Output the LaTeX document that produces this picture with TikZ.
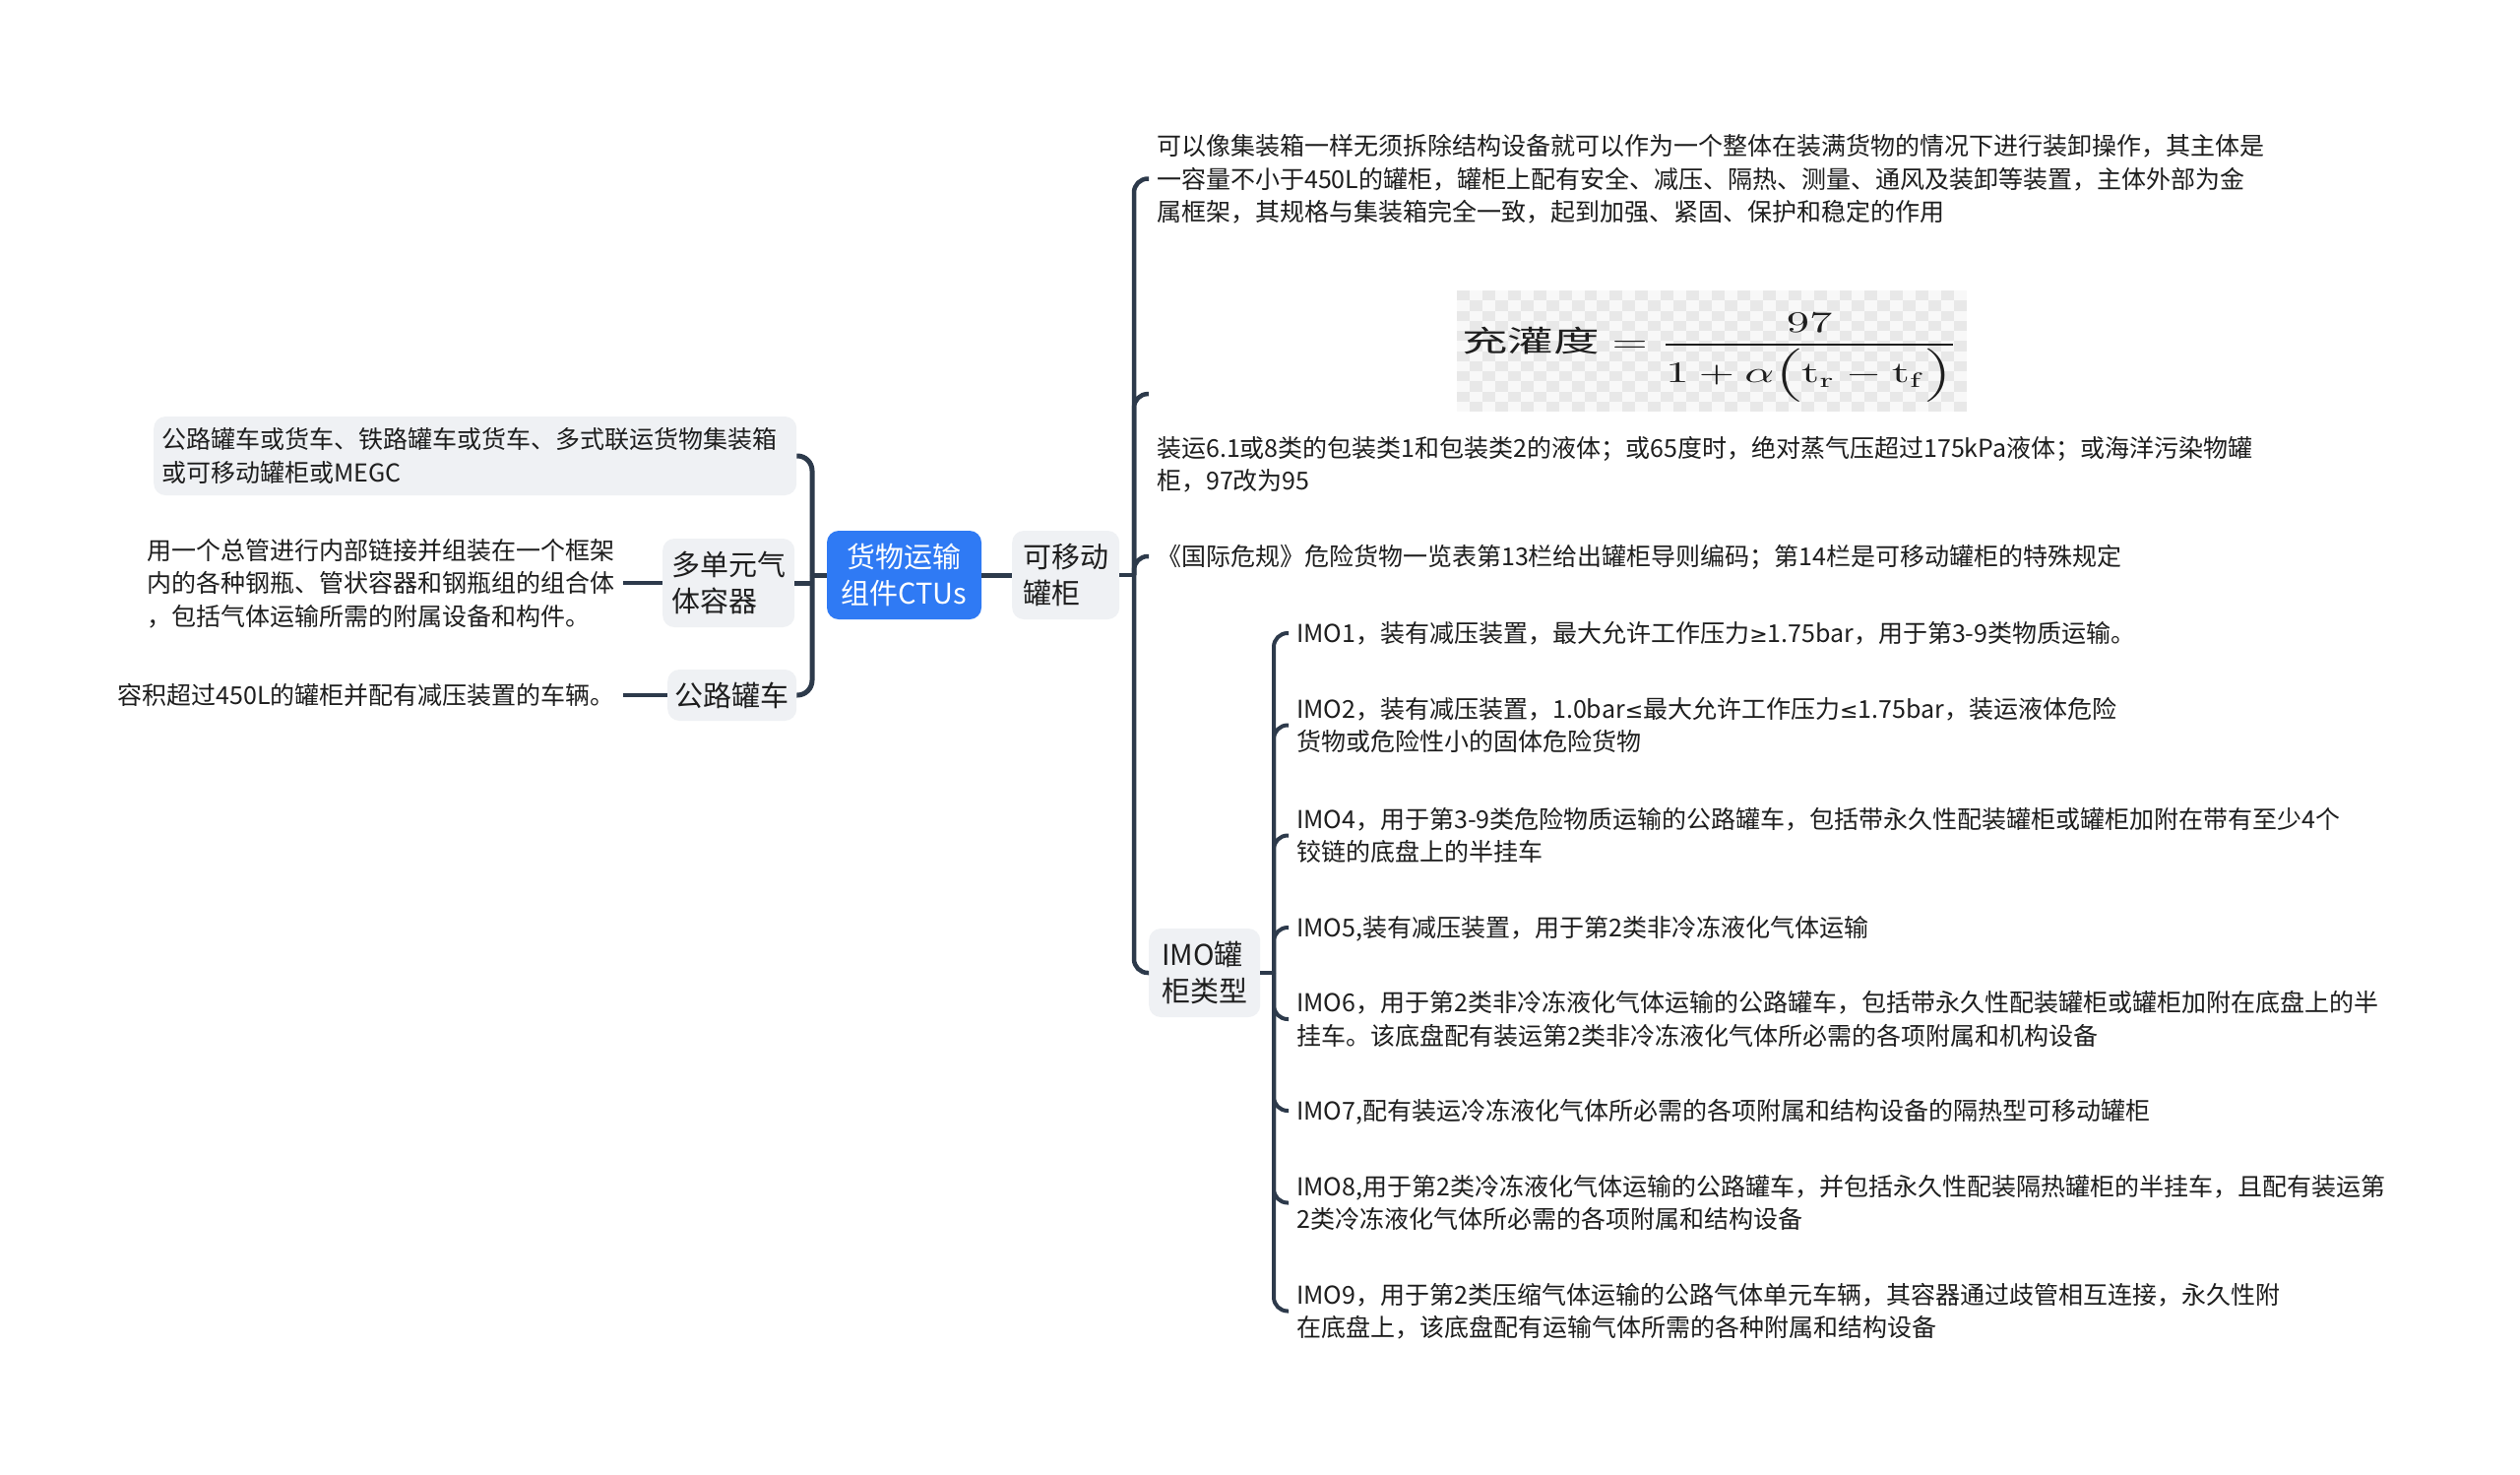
\documentclass[tikz,border=0pt]{standalone}
\usepackage[no-math]{fontspec}
\setmainfont{Noto Sans CJK SC}
\newfontfamily\symfont{DejaVu Sans}
\usepackage{amsmath}
\usepackage{graphicx}
\usetikzlibrary{fit}
\definecolor{lc}{HTML}{2D3A4B}
\definecolor{gfill}{HTML}{EFF1F4}
\definecolor{rootblue}{HTML}{2F7AF4}
\definecolor{ink}{HTML}{1E1E1E}
\definecolor{chkg}{HTML}{E8E8E8}
\definecolor{chkw}{HTML}{F8F8F8}
\newcommand\strA{\rule[-7.25pt]{0pt}{33.5pt}}
\newcommand\strB{\rule[-7.5pt]{0pt}{37pt}}
\newcommand\myge{{\symfont\fontsize{22}{33.5}\selectfont ≥}}
\newcommand\myle{{\symfont\fontsize{22}{33.5}\selectfont ≤}}
\tikzset{
  txt/.style={font=\fontsize{25}{33.5}\selectfont, text=ink, inner xsep=8pt, inner ysep=0pt, align=left},
  bigfont/.style={font=\fontsize{29}{37}\selectfont},
  gbox/.style={fill=gfill, rounded corners=12pt, text=ink},
  rootbox/.style={fill=rootblue, rounded corners=12pt, text=white, bigfont, align=center,
    minimum width=157pt, minimum height=90pt, inner sep=0pt},
  lone/.style={draw=lc, line width=5pt, rounded corners=15pt},
  ltwo/.style={draw=lc, line width=4.5pt, rounded corners=14pt},
  lthree/.style={draw=lc, line width=4pt, rounded corners=14pt},
}
\begin{document}
\begin{tikzpicture}[x=1pt,y=-1pt]
\fill[white] (0,0) rectangle (2560,1497);
\useasboundingbox (0,0) rectangle (2560,1497);

% checkerboard behind formula
\fill[chkw] (1480,295) rectangle (1998,418);
\foreach \ci in {0,...,39}{
  \foreach \cj in {0,...,11}{
    \pgfmathtruncatemacro{\cpar}{mod(\ci+\cj,2)}
    \ifnum\cpar=0
      \fill[chkg] ({1480+\ci*12.95},{295+\cj*10.25}) rectangle ++(12.95,10.25);
    \fi
  }
}

% root and first level
\node[rootbox] (r) at (918.5,584) {\strB 货物运输\\\strB 组件CTUs};
\node[gbox,bigfont,align=left,inner xsep=11pt,inner ysep=8pt,anchor=west] (k) at (1028,584) {\strB 可移动\\\strB 罐柜};
\node[gbox,bigfont,align=left,inner xsep=9pt,inner ysep=8pt,anchor=west] (m) at (673,592) {\strB 多单元气\\\strB 体容器};
\node[gbox,bigfont,inner xsep=7.5pt,inner ysep=7.5pt,anchor=west] (g) at (678,706) {\strB 公路罐车};
\node[gbox,txt,text width=637pt,inner ysep=6.5pt,anchor=west] (A) at (156,463) {\strA 公路罐车或货车、铁路罐车或货车、多式联运货物集装箱\\\strA 或可移动罐柜或MEGC};

% left leaves
\node[txt,anchor=east] (tB) at (633,592) {\strA 用一个总管进行内部链接并组装在一个框架\\\strA 内的各种钢瓶、管状容器和钢瓶组的组合体\\\strA ，包括气体运输所需的附属设备和构件。};
\node[txt,anchor=east] (tC) at (633,706) {\strA 容积超过450L的罐柜并配有减压装置的车辆。};

% right children
\node[txt,anchor=west] (c1) at (1167,181.5) {\strA 可以像集装箱一样无须拆除结构设备就可以作为一个整体在装满货物的情况下进行装卸操作，其主体是\\\strA 一容量不小于450L的罐柜，罐柜上配有安全、减压、隔热、测量、通风及装卸等装置，主体外部为金\\\strA 属框架，其规格与集装箱完全一致，起到加强、紧固、保护和稳定的作用};
\node[txt,anchor=west] (c2) at (1167,471.5) {\strA 装运6.1或8类的包装类1和包装类2的液体；或65度时，绝对蒸气压超过175kPa液体；或海洋污染物罐\\\strA 柜，97改为95};
\coordinate (chk) at (1480,295);
\node[anchor=base west,inner sep=0pt,text=ink] (f) at (1485,357.5) {\fontsize{10}{12}\selectfont\scalebox{4.65}[3]{$\text{充灌度}=\dfrac{97}{1+\alpha\Bigl(\mathrm{t}_{\mathrm{r}}-\mathrm{t}_{\mathrm{f}}\Bigr)}$}};
\node[fit=(chk)(c2),inner sep=0pt] (c2g) {};
\node[txt,anchor=west] (c3) at (1167,565) {\strA 《国际危规》危险货物一览表第13栏给出罐柜导则编码；第14栏是可移动罐柜的特殊规定};
\node[gbox,bigfont,align=left,inner xsep=13pt,inner ysep=8pt,anchor=west] (i) at (1167,988) {\strB IMO罐\\\strB 柜类型};

% IMO children
\node[txt,anchor=west] (p1) at (1309,643) {\strA IMO1，装有减压装置，最大允许工作压力\myge 1.75bar，用于第3-9类物质运输。};
\node[txt,anchor=west] (p2) at (1309,736.5) {\strA IMO2，装有减压装置，1.0bar\myle 最大允许工作压力\myle 1.75bar，装运液体危险\\\strA 货物或危险性小的固体危险货物};
\node[txt,anchor=west] (p4) at (1309,848.5) {\strA IMO4，用于第3-9类危险物质运输的公路罐车，包括带永久性配装罐柜或罐柜加附在带有至少4个\\\strA 铰链的底盘上的半挂车};
\node[txt,anchor=west] (p5) at (1309,942) {\strA IMO5,装有减压装置，用于第2类非冷冻液化气体运输};
\node[txt,anchor=west] (p6) at (1309,1035) {\strA IMO6，用于第2类非冷冻液化气体运输的公路罐车，包括带永久性配装罐柜或罐柜加附在底盘上的半\\\strA 挂车。该底盘配有装运第2类非冷冻液化气体所必需的各项附属和机构设备};
\node[txt,anchor=west] (p7) at (1309,1128) {\strA IMO7,配有装运冷冻液化气体所必需的各项附属和结构设备的隔热型可移动罐柜};
\node[txt,anchor=west] (p8) at (1309,1221.5) {\strA IMO8,用于第2类冷冻液化气体运输的公路罐车，并包括永久性配装隔热罐柜的半挂车，且配有装运第\\\strA 2类冷冻液化气体所必需的各项附属和结构设备};
\node[txt,anchor=west] (p9) at (1309,1331.5) {\strA IMO9，用于第2类压缩气体运输的公路气体单元车辆，其容器通过歧管相互连接，永久性附\\\strA 在底盘上，该底盘配有运输气体所需的各种附属和结构设备};

% junctions
\coordinate (jl) at (825,584);
\coordinate (jr) at (1152,584);
\coordinate (ji) at (1294,988);

% left connectors
\draw[lone] (r.west) -- (jl);
\draw[lone] (jl) |- (A.east);
\draw[lone] (jl) |- (g.east);
\draw[lone] (m.east) -- (m.east -| jl);
\draw[ltwo] (tB.east) -- (m.west);
\draw[ltwo] (tC.east) -- (g.west);

% right connectors
\draw[lone] (r.east) -- (k.west);
\draw[ltwo] (k.east) -- (jr);
\draw[ltwo] (jr) |- (c1.west);
\draw[ltwo] (jr) |- (c2g.west);
\draw[ltwo] (jr) |- (c3.west);
\draw[ltwo] (jr) |- (i.west);

% IMO connectors
\draw[lthree] (i.east) -- (ji);
\foreach \p in {p1,p2,p4,p5,p6,p7,p8,p9}{
  \draw[lthree] (ji) |- (\p.west);
}
\end{tikzpicture}
\end{document}
